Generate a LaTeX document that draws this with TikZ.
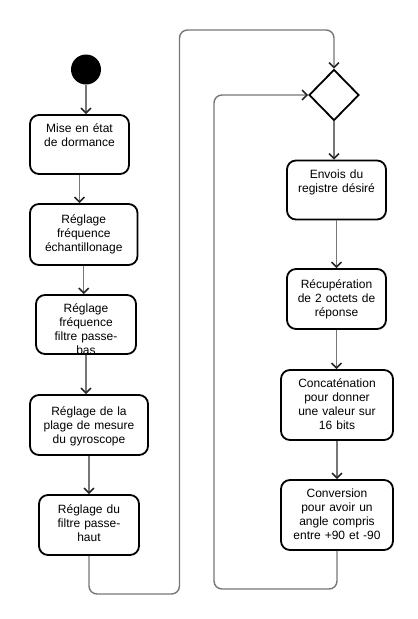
\documentclass[tikz,border=0pt]{standalone}
\usepackage{fontspec}
\setmainfont{Liberation Sans}
\usetikzlibrary{arrows.meta,shapes.geometric}
\definecolor{lineGray}{RGB}{118,118,118}
\begin{document}
\begin{tikzpicture}[x=1pt,y=-1pt,
  box/.style={draw=black, line width=1.8pt, rounded corners=9pt, rectangle, inner sep=0pt},
  txt/.style={anchor=north, inner sep=0pt, align=center, text width=124pt,
    font=\fontsize{12}{14}\selectfont, execute at begin node={\strut}},
  conn/.style={draw=lineGray, line width=1.4pt,
    -{Straight Barb[length=5pt,width=10pt,line width=1.5pt,color=black!85]}},
  loopline/.style={conn, rounded corners=8pt}]
\useasboundingbox (0,0) rectangle (418,619);

% start
\node[circle, fill=black, minimum size=30pt, inner sep=0pt] (start) at (86,69.5) {};

% left column boxes
\node[box, minimum width=99pt, minimum height=59pt] (b1) at (79.5,144.5) {};
\node[box, minimum width=107.5pt, minimum height=61pt] (b2) at (83.75,234.5) {};
\node[box, minimum width=100pt, minimum height=59pt] (b3) at (86,324.5) {};
\node[box, minimum width=118pt, minimum height=60pt] (b4) at (89,425) {};
\node[box, minimum width=100pt, minimum height=60pt] (b5) at (89,525) {};

% right column
\node[draw=black, line width=1.8pt, diamond, aspect=1, minimum width=50pt, minimum height=51pt, inner sep=0pt] (dia) at (334,95) {};
\node[box, minimum width=99pt, minimum height=59pt] (b6) at (336.5,190) {};
\node[box, minimum width=99pt, minimum height=60pt] (b7) at (336.5,299) {};
\node[box, minimum width=112pt, minimum height=70pt] (b8) at (337,405) {};
\node[box, minimum width=112pt, minimum height=70pt] (b9) at (337,515) {};

% texts
\node[txt] at ([yshift=-8.5pt]b1.north) {Mise en état\\de dormance};
\node[txt] at ([yshift=-10.2pt]b2.north) {Réglage\\fréquence\\échantillonage};
\begin{scope}
  \clip (b3.south west) rectangle ([yshift=20pt]b3.north east);
  \node[txt] at ([yshift=-8.5pt]b3.north) {Réglage\\fréquence\\filtre passe-\\bas};
\end{scope}
\node[txt] at ([yshift=-10.9pt]b4.north) {Réglage de la\\plage de mesure\\du gyroscope};
\node[txt] at ([yshift=-9.5pt]b5.north) {Réglage du\\filtre passe-\\haut};
\node[txt] at ([yshift=-8.5pt]b6.north) {Envois du\\registre désiré};
\node[txt] at ([yshift=-10.2pt]b7.north) {Récupération\\de 2 octets de\\réponse};
\node[txt] at ([yshift=-8.5pt]b8.north) {Concaténation\\pour donner\\une valeur sur\\16 bits};
\node[txt] at ([yshift=-8.5pt]b9.north) {Conversion\\pour avoir un\\angle compris\\entre +90 et -90};

% connectors, left column
\draw[conn] (start.south) -- (start.south |- b1.north);
\draw[conn] (b1.south) -- (b1.south |- b2.north);
\draw[conn] (b2.south) -- (b2.south |- b3.north);
\draw[conn] (b3.south) -- (b3.south |- b4.north);
\draw[conn] (b4.south) -- (b4.south |- b5.north);

% loop from left column to diamond
\draw[loopline] (b5.south) |- (179.5,594) -- (179.5,30) -| (dia.north);

% right column
\draw[conn] (dia.south) -- (dia.south |- b6.north);
\draw[conn] (b6.south) -- (b6.south |- b7.north);
\draw[conn] (b7.south) -- (b7.south |- b8.north);
\draw[conn] (b8.south) -- (b8.south |- b9.north);

% loop back to diamond
\draw[loopline] (b9.south) |- (214,589) |- (dia.west);
\end{tikzpicture}
\end{document}
